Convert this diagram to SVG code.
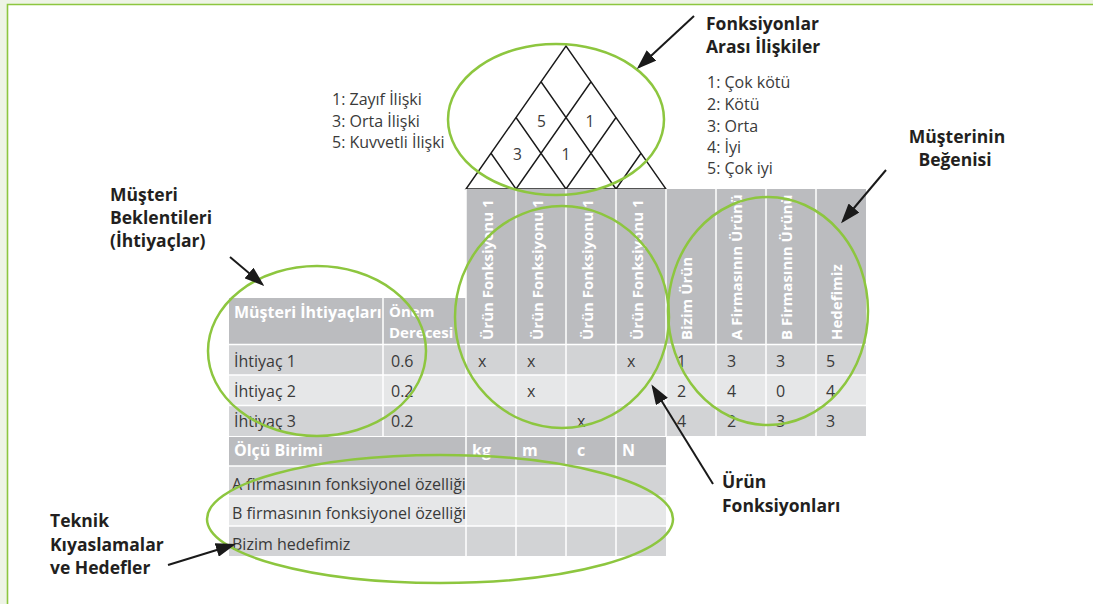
<svg xmlns="http://www.w3.org/2000/svg" width="1093" height="604" viewBox="0 0 1093 604">
  <defs>
    <style>
      text { font-family: "Open Sans", "Noto Sans", "DejaVu Sans", sans-serif; }
      .t { font-size: 16px; fill: #3a3a3a; }
      .n { font-size: 15.5px; fill: #3a3a3a; }
      .h { font-size: 16px; font-weight: 700; fill: #ffffff; }
      .s { font-size: 15px; font-weight: 700; fill: #ffffff; }
      .v { font-size: 15px; font-weight: 700; fill: #ffffff; }
      .lbl { font-size: 17.5px; font-weight: 700; fill: #231f20; }
      .hd { fill: #bbbcbf; }
      .d1 { fill: #d2d3d5; }
      .d2 { fill: #e6e7e8; }
      .grid { stroke: #ffffff; stroke-width: 1.5; fill: none; }
      .roof { fill: none; stroke: #1a1a1a; stroke-width: 1.4; }
      .ring { fill: none; stroke: #8dc63f; stroke-width: 2.5; }
      .arrow { fill: none; stroke: #1a1a1a; stroke-width: 2; marker-end: url(#ah); }
    </style>
    <marker id="ah" viewBox="0 0 20 14" refX="17" refY="7" markerWidth="20" markerHeight="14" markerUnits="userSpaceOnUse" orient="auto">
      <path d="M0,0 L20,7 L0,14 Z" fill="#1a1a1a"/>
    </marker>
    <clipPath id="clipNeeds"><rect x="229" y="298" width="153" height="46"/></clipPath>
  </defs>

  <!-- page frame -->
  <g id="frame">
    <rect x="0" y="0" width="1093" height="604" fill="#ffffff"/>
    <path d="M0,0 H1093 V4 H7 V604 H0 Z" fill="#eef4e6"/>
    <path d="M7.5,604 V4.5 H1093" fill="none" stroke="#8dc63f" stroke-width="1.6"/>
  </g>

  <!-- roof: correlations between functions -->
  <g id="roof">
    <polygon class="roof" points="466,189 566,46 666,189"/>
    <path class="roof" d="M516,189 L591,81.75 M566,189 L616,117.5 M616,189 L641,153.25 M616,189 L541,81.75 M566,189 L516,117.5 M516,189 L491,153.25"/>
    <g class="n" text-anchor="middle">
      <text x="541.5" y="127">5</text>
      <text x="590" y="127">1</text>
      <text x="517.5" y="160">3</text>
      <text x="566" y="160">1</text>
    </g>
  </g>

  <!-- relationship legend -->
  <g id="legend-relations" class="t">
    <text x="332" y="105">1: Zayıf İlişki</text>
    <text x="332" y="127">3: Orta İlişki</text>
    <text x="332" y="148">5: Kuvvetli İlişki</text>
  </g>

  <!-- rating legend -->
  <g id="legend-ratings" class="t">
    <text x="707" y="88">1: Çok kötü</text>
    <text x="707" y="110">2: Kötü</text>
    <text x="707" y="132">3: Orta</text>
    <text x="707" y="153">4: İyi</text>
    <text x="707" y="174">5: Çok iyi</text>
  </g>

  <!-- main matrix -->
  <g id="matrix">
    <rect class="hd" x="229" y="298" width="237" height="46"/>
    <rect class="hd" x="466" y="189" width="400" height="155"/>
    <rect class="d1" x="229" y="344" width="637" height="31"/>
    <rect class="d2" x="229" y="375" width="637" height="30"/>
    <rect class="d1" x="229" y="405" width="637" height="31"/>
    <path class="grid" d="M229,344.5 H866 M229,375 H866 M229,405.5 H866 M383,298 V436 M466,189 V436 M516,189 V436 M566,189 V436 M616,189 V436 M666,189 V436 M716,189 V436 M766,189 V436 M816,189 V436"/>

    <text class="h" x="234" y="318" clip-path="url(#clipNeeds)">Müşteri İhtiyaçları</text>
    <text class="s" x="389" y="317">Önem</text>
    <text class="s" x="389" y="338">Derecesi</text>

    <g class="v">
      <text transform="translate(493,340) rotate(-90)">Ürün Fonksiyonu 1</text>
      <text transform="translate(543,340) rotate(-90)">Ürün Fonksiyonu 1</text>
      <text transform="translate(593,340) rotate(-90)">Ürün Fonksiyonu 1</text>
      <text transform="translate(643,340) rotate(-90)">Ürün Fonksiyonu 1</text>
      <text transform="translate(692,340) rotate(-90)">Bizim Ürün</text>
      <text transform="translate(742,340) rotate(-90)">A Firmasının Ürünü</text>
      <text transform="translate(792,340) rotate(-90)">B Firmasının Ürünü</text>
      <text transform="translate(842,340) rotate(-90)">Hedefimiz</text>
    </g>

    <g class="t">
      <text x="234" y="367">İhtiyaç 1</text>
      <text x="391" y="367">0.6</text>
      <text x="478" y="367">x</text>
      <text x="527" y="367">x</text>
      <text x="627" y="367">x</text>
      <text x="677" y="367">1</text>
      <text x="727" y="367">3</text>
      <text x="776" y="367">3</text>
      <text x="826" y="367">5</text>

      <text x="234" y="397">İhtiyaç 2</text>
      <text x="391" y="397">0.2</text>
      <text x="527" y="397">x</text>
      <text x="677" y="397">2</text>
      <text x="727" y="397">4</text>
      <text x="776" y="397">0</text>
      <text x="826" y="397">4</text>

      <text x="234" y="427">İhtiyaç 3</text>
      <text x="391" y="427">0.2</text>
      <text x="577" y="427">x</text>
      <text x="677" y="427">4</text>
      <text x="727" y="427">2</text>
      <text x="776" y="427">3</text>
      <text x="826" y="427">3</text>
    </g>
  </g>

  <!-- technical benchmarks -->
  <g id="benchmarks">
    <rect class="hd" x="229" y="437" width="437" height="29"/>
    <rect class="d1" x="229" y="466" width="437" height="30"/>
    <rect class="d2" x="229" y="496" width="437" height="30"/>
    <rect class="d1" x="229" y="526" width="437" height="30"/>
    <path class="grid" d="M229,466 H666 M229,496 H666 M229,526 H666 M466,437 V556 M516,437 V556 M566,437 V556 M616,437 V556"/>
    <g class="h">
      <text x="234" y="456">Ölçü Birimi</text>
      <text x="472" y="456">kg</text>
      <text x="522" y="456">m</text>
      <text x="577" y="456">c</text>
      <text x="622" y="456">N</text>
    </g>
    <g class="t">
      <text x="232" y="490">A firmasının fonksiyonel özelliği</text>
      <text x="232" y="519">B firmasının fonksiyonel özelliği</text>
      <text x="232" y="550">Bizim hedefimiz</text>
    </g>
  </g>

  <!-- highlight rings -->
  <g id="rings">
    <ellipse class="ring" cx="556" cy="119.5" rx="108" ry="75.5"/>
    <ellipse class="ring" cx="562" cy="317" rx="107" ry="111"/>
    <ellipse class="ring" cx="768" cy="311" rx="100" ry="114"/>
    <ellipse class="ring" cx="317" cy="351" rx="109" ry="85"/>
    <ellipse class="ring" cx="440" cy="519" rx="233" ry="64"/>
  </g>

  <!-- callout labels -->
  <g id="label-roof" class="lbl">
    <text x="706" y="30">Fonksiyonlar</text>
    <text x="706" y="53">Arası İlişkiler</text>
  </g>
  <g id="label-ratings" class="lbl" text-anchor="middle">
    <text x="957" y="143">Müşterinin</text>
    <text x="955" y="166">Beğenisi</text>
  </g>
  <g id="label-needs" class="lbl">
    <text x="110" y="201">Müşteri</text>
    <text x="110" y="224">Beklentileri</text>
    <text x="110" y="247">(İhtiyaçlar)</text>
  </g>
  <g id="label-functions" class="lbl">
    <text x="722" y="488">Ürün</text>
    <text x="722" y="512">Fonksiyonları</text>
  </g>
  <g id="label-benchmarks" class="lbl">
    <text x="50" y="527">Teknik</text>
    <text x="50" y="551">Kıyaslamalar</text>
    <text x="50" y="574">ve Hedefler</text>
  </g>

  <!-- connectors -->
  <g id="connectors">
    <line class="arrow" x1="694" y1="16" x2="639" y2="67"/>
    <line class="arrow" x1="886" y1="170" x2="843" y2="221"/>
    <line class="arrow" x1="230" y1="257" x2="262" y2="284"/>
    <line class="arrow" x1="713" y1="484" x2="653" y2="387"/>
    <line class="arrow" x1="168" y1="565" x2="233" y2="545"/>
  </g>
</svg>
